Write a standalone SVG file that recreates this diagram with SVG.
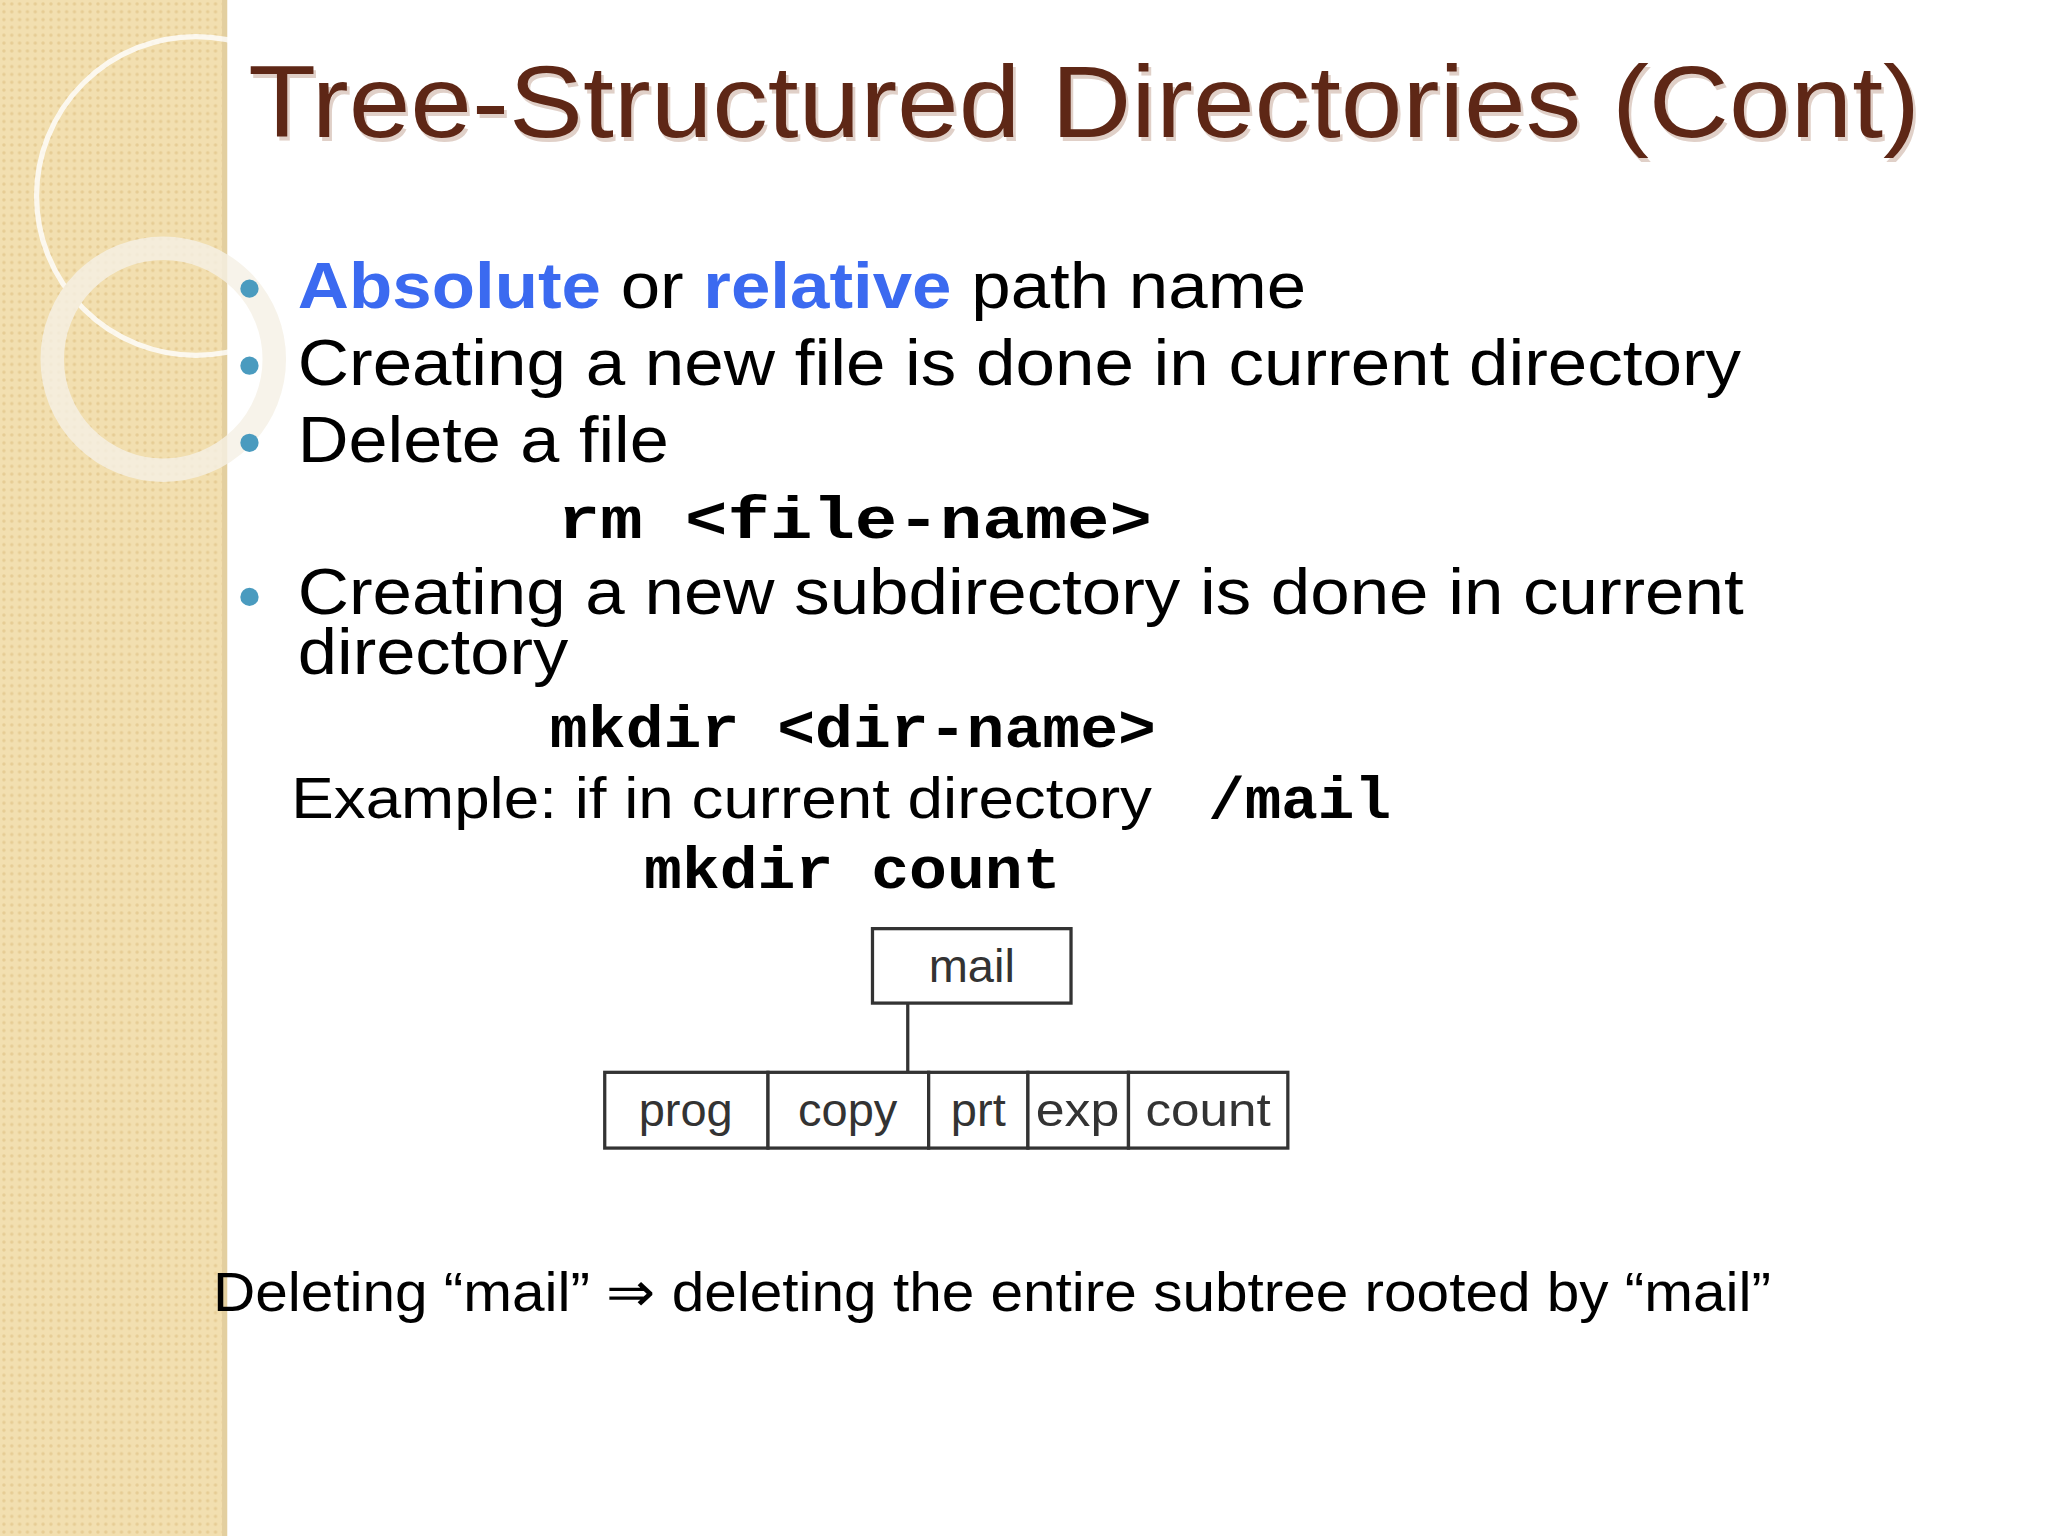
<svg xmlns="http://www.w3.org/2000/svg" width="2048" height="1536" viewBox="0 0 2048 1536">
<defs>
<pattern id="dots" width="6" height="6" patternUnits="userSpaceOnUse"><rect width="6" height="6" fill="#f2dfb0"/><circle cx="3" cy="3" r="1.3" fill="#e6cc94"/></pattern>
<style>
.s{font-family:"Liberation Sans",Arial,sans-serif;fill:#000}
.m{font-family:"Liberation Mono","Courier New",monospace;font-weight:bold;fill:#000}
.b{fill:#fff;stroke:#333;stroke-width:2.5}
.t{font-family:"Liberation Sans",Arial,sans-serif;font-size:36px;fill:#333;text-anchor:middle}
</style>
</defs>
<g transform="scale(1.30612)">
<rect width="1568" height="1176" fill="#fff"/>
<rect width="173" height="1176" fill="url(#dots)"/>
<rect x="170" width="4" height="1176" fill="#e3cf9f"/>
<g fill="none" stroke="#fff" opacity="0.8">
<circle cx="150" cy="150" r="122" stroke-width="4"/>
<circle cx="125" cy="275" r="85" stroke-width="18" stroke="#f6f1e6"/>
</g>
<g id="title"><text x="192" y="108" class="s" font-size="78" style="fill:#e0d0c8" textLength="1280" lengthAdjust="spacingAndGlyphs">Tree-Structured Directories (Cont)</text>
<text x="190" y="105" class="s" font-size="78" style="fill:#5e2716" textLength="1280" lengthAdjust="spacingAndGlyphs">Tree-Structured Directories (Cont)</text></g>
<g id="bullets" fill="#4a9bbf">
<circle cx="191" cy="221" r="7"/><circle cx="191" cy="280" r="7"/><circle cx="191" cy="339" r="7"/><circle cx="191" cy="457" r="7"/>
</g>
<g id="text">
<text x="228" y="236" class="s" font-size="50" textLength="772" lengthAdjust="spacingAndGlyphs"><tspan font-weight="bold" style="fill:#3b6af0">Absolute</tspan> or <tspan font-weight="bold" style="fill:#3b6af0">relative</tspan> path name</text>
<text x="228" y="295" class="s" font-size="50" textLength="1105" lengthAdjust="spacingAndGlyphs">Creating a new file is done in current directory</text>
<text x="228" y="354" class="s" font-size="50" textLength="284" lengthAdjust="spacingAndGlyphs">Delete a file</text>
<text x="427" y="412" class="m" font-size="45" textLength="455" lengthAdjust="spacingAndGlyphs">rm &lt;file-name&gt;</text>
<text x="228" y="470" class="s" font-size="50" textLength="1107" lengthAdjust="spacingAndGlyphs">Creating a new subdirectory is done in current</text>
<text x="228" y="516" class="s" font-size="50" textLength="207" lengthAdjust="spacingAndGlyphs">directory</text>
<text x="421" y="572" class="m" font-size="45" textLength="464" lengthAdjust="spacingAndGlyphs">mkdir &lt;dir-name&gt;</text>
<text x="223" y="626" class="s" font-size="44" textLength="659" lengthAdjust="spacingAndGlyphs">Example:  if in current directory</text>
<text x="925" y="626" class="m" font-size="45" textLength="140" lengthAdjust="spacingAndGlyphs">/mail</text>
<text x="493" y="680" class="m" font-size="45" textLength="319" lengthAdjust="spacingAndGlyphs">mkdir count</text>
<text x="163" y="1004" class="s" font-size="42" textLength="1193" lengthAdjust="spacingAndGlyphs">Deleting “mail” ⇒ deleting the entire subtree rooted by “mail”</text>
</g>
<g id="connectors"><line x1="695" y1="768" x2="695" y2="821" stroke="#333" stroke-width="2.5"/></g>
<g id="mail"><rect x="668" y="711" width="152" height="57" class="b"/><text x="744" y="752" class="t">mail</text></g>
<g id="prog"><rect x="463" y="821" width="125" height="58" class="b"/><text x="525" y="862" class="t">prog</text></g>
<g id="copy"><rect x="588" y="821" width="123" height="58" class="b"/><text x="649" y="862" class="t">copy</text></g>
<g id="prt"><rect x="711" y="821" width="76" height="58" class="b"/><text x="749" y="862" class="t">prt</text></g>
<g id="exp"><rect x="787" y="821" width="77" height="58" class="b"/><text x="825" y="862" class="t" textLength="64" lengthAdjust="spacingAndGlyphs">exp</text></g>
<g id="count"><rect x="864" y="821" width="122" height="58" class="b"/><text x="925" y="862" class="t" textLength="96" lengthAdjust="spacingAndGlyphs">count</text></g>
</g>
</svg>
